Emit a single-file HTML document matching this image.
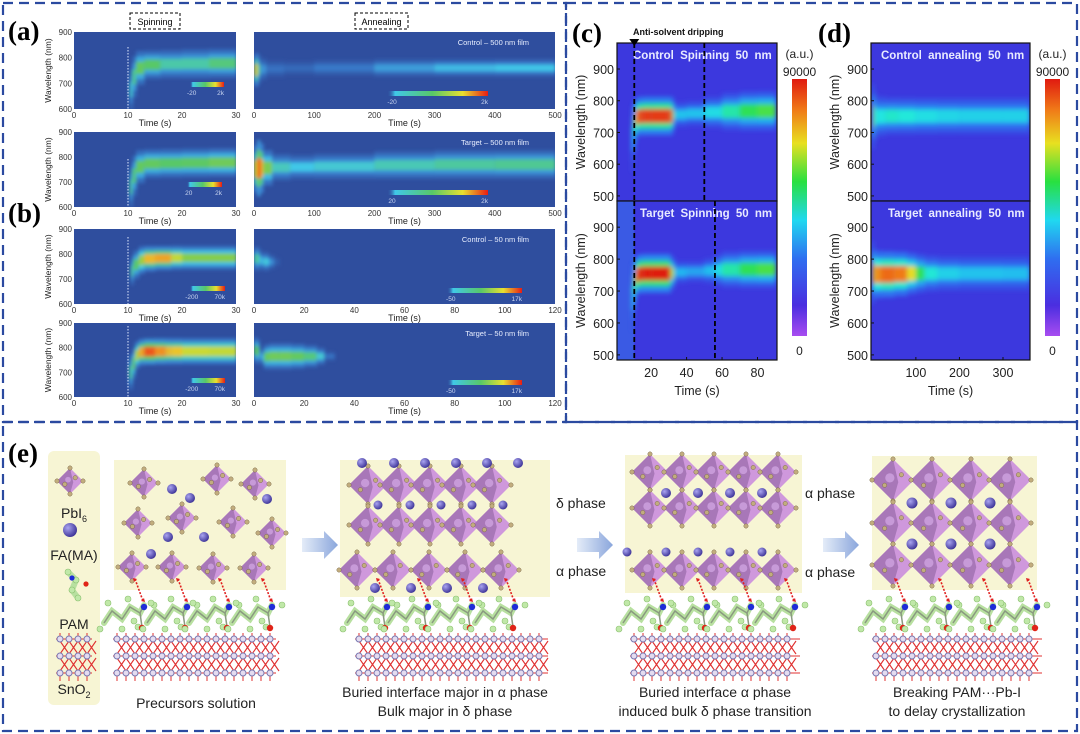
<!DOCTYPE html>
<html><head><meta charset="utf-8"><style>
html,body{margin:0;padding:0;background:#fff;width:1080px;height:734px;overflow:hidden}
svg{display:block;font-family:"Liberation Sans",sans-serif}
</style></head><body>
<svg id="fig" width="1080" height="734" viewBox="0 0 1080 734" xmlns="http://www.w3.org/2000/svg">
<defs>
<filter id="blurA" x="-20%" y="-50%" width="140%" height="200%"><feGaussianBlur stdDeviation="1.8"/></filter>
<filter id="blurC" x="-20%" y="-50%" width="140%" height="200%"><feGaussianBlur stdDeviation="2.4"/></filter>
<radialGradient id="cat" cx="0.35" cy="0.35" r="0.7"><stop offset="0" stop-color="#a9a4f0"/><stop offset="1" stop-color="#3b3196"/></radialGradient>
<linearGradient id="arrowG" x1="0" x2="1"><stop offset="0" stop-color="#e4ecf8"/><stop offset="1" stop-color="#8aa6dc"/></linearGradient>
<linearGradient id="cbarCD" x1="0" y1="1" x2="0" y2="0">
<stop offset="0" stop-color="#a84cf0"/><stop offset="0.12" stop-color="#4a2ee0"/><stop offset="0.3" stop-color="#2f6ef0"/><stop offset="0.45" stop-color="#20d8f0"/><stop offset="0.6" stop-color="#28e040"/><stop offset="0.75" stop-color="#e8e020"/><stop offset="0.88" stop-color="#f07a18"/><stop offset="1" stop-color="#e01a10"/></linearGradient>
<linearGradient id="cbarA" x1="0" x2="1"><stop offset="0" stop-color="#2f4e9e" stop-opacity="0"/><stop offset="0.08" stop-color="#40c8e8"/><stop offset="0.45" stop-color="#58c868"/><stop offset="0.75" stop-color="#e8e030"/><stop offset="1" stop-color="#e81c14"/></linearGradient>
</defs>

<g fill="none" stroke="#2b4aa0" stroke-width="2.2" stroke-dasharray="10 6">
<rect x="3" y="3" width="563" height="419"/>
<rect x="566" y="3" width="511" height="419"/>
<rect x="3" y="422" width="1074" height="309"/>
</g>

<g font-family="Liberation Serif,serif" font-weight="bold" font-size="27" fill="#000">
<text x="8" y="40">(a)</text>
<text x="8" y="222">(b)</text>
<text x="572" y="42">(c)</text>
<text x="818" y="42">(d)</text>
<text x="8" y="462">(e)</text>
</g>
<g><rect x="130" y="13" width="50" height="16" fill="none" stroke="#000" stroke-dasharray="3 2"/><text x="155" y="25" font-size="9" text-anchor="middle">Spinning</text></g>
<g><rect x="355" y="13" width="53" height="16" fill="none" stroke="#000" stroke-dasharray="3 2"/><text x="381.5" y="25" font-size="9" text-anchor="middle">Annealing</text></g>

<g id="charts"></g>
<g id="schem"></g>
</svg>
<script>
// ===== data (a)/(b) =====
const a1sT=[10.3,10.8,11.5,13,16,20,25,30];
const a1sC=[650,700,750,770,775,775,778,778];
const a1sW=[40,45,40,30,28,30,30,30];
const a1sV=[0.35,0.4,0.5,0.55,0.45,0.4,0.45,0.5];
const a1aT=[0,3,6,10,20,50,100,200,300,400,500];
const a1aC=[750,752,752,755,755,758,760,760,760,760,760];
const a1aW=[30,35,35,25,20,15,15,18,18,18,18];
const a1aV=[0.45,0.95,0.6,0.3,0.18,0.1,0.12,0.22,0.3,0.34,0.35];
const a2sT=[10.3,10.8,11.5,13,16,20,25,30];
const a2sC=[660,700,750,772,775,775,778,778];
const a2sW=[40,45,40,30,30,30,30,30];
const a2sV=[0.4,0.45,0.5,0.55,0.5,0.5,0.52,0.58];
const a2aT=[0,5,10,15,30,60,100,200,300,400,500];
const a2aC=[750,755,755,755,758,760,760,765,770,770,770];
const a2aW=[40,60,60,45,30,25,25,28,30,30,30];
const a2aV=[0.5,0.95,0.95,0.7,0.45,0.35,0.35,0.4,0.42,0.45,0.45];
const b1sT=[10.5,11,12,13,15,18,20,25,30];
const b1sC=[720,745,770,780,782,785,785,785,785];
const b1sW=[30,30,30,28,25,25,25,25,25];
const b1sV=[0.4,0.45,0.55,0.75,0.85,0.8,0.6,0.6,0.6];
const b1aT=[0,1,2,3,4,5,6,8,10];
const b1aC=[780,782,780,772,770,770,768,768,768];
const b1aW=[25,25,25,18,20,20,18,12,8];
const b1aV=[0.35,0.5,0.4,0.25,0.35,0.4,0.3,0.15,0];
const b2sT=[10.2,10.8,11.3,12,13,15,17,18,20,25,30];
const b2sC=[690,710,760,780,783,785,785,785,785,785,785];
const b2sW=[40,35,30,28,28,28,28,28,28,28,28];
const b2sV=[0.4,0.45,0.6,0.75,0.9,0.95,0.75,0.85,0.72,0.7,0.7];
const b2aT=[0,1,2,3,4,6,10,15,20,25,28,32];
const b2aC=[790,790,780,760,760,765,765,765,765,765,765,765];
const b2aW=[25,30,25,10,25,28,28,28,25,22,15,5];
const b2aV=[0.4,0.6,0.4,0.1,0.5,0.55,0.55,0.55,0.5,0.45,0.3,0];
const spinTicks=[0,10,20,30];
const annATicks=[0,100,200,300,400,500];
const annBTicks=[0,20,40,60,80,100,120];
const wlTicksA=[600,700,800,900];
// ===== data (c)/(d) =====
const cTopT=[9,10,11,12,15,20,25,30,32,33,40,50,60,70,80,90];
const cTopC=[660,700,740,750,752,752,752,752,752,755,758,762,765,767,768,768];
const cTopW=[60,50,35,32,32,32,32,32,32,22,18,22,28,32,32,32];
const cTopV=[0.3,0.4,0.7,0.9,0.95,0.95,0.95,0.95,0.9,0.4,0.35,0.4,0.45,0.55,0.6,0.6];
const cBotT=[9,10,11,12,15,20,25,30,31,33,40,50,56,60,70,80,90];
const cBotC=[660,700,740,752,755,755,755,755,755,758,760,762,765,767,768,768,768];
const cBotW=[60,50,35,32,32,32,32,32,32,20,15,18,22,28,30,30,30];
const cBotV=[0.3,0.45,0.75,0.95,1,1,1,1,0.95,0.4,0.3,0.33,0.4,0.45,0.55,0.6,0.6];
const dTopT=[0,2,5,10,30,60,100,150,200,300,360];
const dTopC=[750,750,750,750,752,752,752,752,752,752,752];
const dTopW=[60,50,40,35,30,30,30,30,30,30,30];
const dTopV=[0.8,0.6,0.45,0.42,0.47,0.47,0.44,0.42,0.4,0.4,0.4];
const dBotT=[0,2,5,20,50,80,100,120,150,200,300,360];
const dBotC=[760,755,752,752,752,755,755,755,755,755,755,755];
const dBotW=[60,45,40,38,38,35,32,30,28,28,28,28];
const dBotV=[0.8,0.75,0.8,0.85,0.9,0.8,0.65,0.5,0.42,0.38,0.36,0.36];
const cTicksX=[20,40,60,80];
const dTicksX=[100,200,300];
const wlTicksCD=[500,600,700,800,900];

const NS='http://www.w3.org/2000/svg';
function el(tag,attrs,parent){const e=document.createElementNS(NS,tag);for(const k in attrs)e.setAttribute(k,attrs[k]);if(parent)parent.appendChild(e);return e;}
function scale(d0,d1,r0,r1){return v=>r0+(v-d0)/(d1-d0)*(r1-r0);}
function hex(h){return [parseInt(h.slice(1,3),16),parseInt(h.slice(3,5),16),parseInt(h.slice(5,7),16)];}
function cmapFrom(stops){return v=>{v=Math.max(0,Math.min(1,v));for(let i=0;i<stops.length-1;i++){const[a,ca]=stops[i],[b,cb]=stops[i+1];if(v<=b){const f=(v-a)/(b-a),x=hex(ca),y=hex(cb);return 'rgb('+x.map((q,j)=>Math.round(q+(y[j]-q)*f)).join(',')+')';}}return stops[stops.length-1][1];};}
const jetA=cmapFrom([[0,'#2f4e9e'],[0.2,'#3a80d0'],[0.35,'#40c8e8'],[0.5,'#58c868'],[0.65,'#9ccf40'],[0.75,'#e8e030'],[0.87,'#f08020'],[1,'#e81c14']]);
const jetC=cmapFrom([[0,'#3c36dc'],[0.2,'#2f6ef0'],[0.35,'#22b8f0'],[0.45,'#22e8e0'],[0.58,'#30e050'],[0.72,'#e8e020'],[0.85,'#f07a18'],[1,'#e01a10']]);
const root=document.getElementById('charts');
let clipId=0;

function heat(g,xs,ys,T,C,W,V,cmap,filt){
  const layer=el('g',{filter:'url(#'+filt+')'},g);
  for(let i=0;i<T.length-1;i++){
    const x0=xs(T[i]),x1=xs(T[i+1]);
    const c=(C[i]+C[i+1])/2,w=(W[i]+W[i+1])/2*1.25,v=(V[i]+V[i+1])/2;
    if(v<=0.02)continue;
    const halo=el('rect',{x:x0,y:ys(c+w*1.5),width:x1-x0+0.6,height:Math.abs(ys(c-w*1.5)-ys(c+w*1.5)),fill:cmap(v*0.25)},layer);
    
    
    const outer=el('rect',{x:x0,y:ys(c+w),width:x1-x0+0.6,height:Math.abs(ys(c-w)-ys(c+w)),fill:cmap(v*0.55)},layer);
    
    
    const inner=el('rect',{x:x0,y:ys(c+w*0.55),width:x1-x0+0.6,height:Math.abs(ys(c-w*0.55)-ys(c+w*0.55)),fill:cmap(v)},layer);
    
    
  }
}

function plotA(o){
  const g=el('g',{},root);
  
  
  const id='cp'+(clipId++);
  const cp=el('clipPath',{id:id},g);el('rect',{x:o.x0,y:o.y0,width:o.x1-o.x0,height:o.y1-o.y0},cp);
  el('rect',{x:o.x0,y:o.y0,width:o.x1-o.x0,height:o.y1-o.y0,fill:'#2f4e9e'},g);
  const xs=scale(o.d0,o.d1,o.x0,o.x1),ys=scale(600,900,o.y1,o.y0);
  const hg=el('g',{'clip-path':'url(#'+id+')'},g);
  heat(hg,xs,ys,o.T,o.C,o.W,o.V,jetA,'blurA');
  if(o.dotted){const l=el('line',{x1:xs(10),x2:xs(10),y1:o.y0+(o.dottedTop||15),y2:o.y1,stroke:'#dfe8ff','stroke-width':1,'stroke-dasharray':'1.5 1.5'},g);
    }
  o.ticks.forEach(t=>{const tx=el('text',{x:xs(t),y:o.y1+9,'font-size':8,'text-anchor':'middle',fill:'#333'},g);tx.textContent=t;
    });
  const xl=el('text',{x:(o.x0+o.x1)/2,y:o.y1+17,'font-size':9,'text-anchor':'middle',fill:'#222'},g);xl.textContent='Time (s)';
  
  if(o.yaxis){
    wlTicksA.forEach(t=>{const tx=el('text',{x:o.x0-2,y:ys(t)+3,'font-size':8,'text-anchor':'end',fill:'#333'},g);tx.textContent=t;
      });
    const yl=el('text',{x:0,y:0,'font-size':8.5,'text-anchor':'middle',fill:'#222',transform:'translate('+(o.x0-23)+','+((o.y0+o.y1)/2)+') rotate(-90)'},g);yl.textContent='Wavelength (nm)';
    
  }
  if(o.title){const tt=el('text',{x:o.x1-26,y:o.y0+13,'font-size':7.5,'text-anchor':'end',fill:'#e8eeff'},g);tt.textContent=o.title;
    }
  const cb=o.cb;
  const r=el('rect',{x:cb[0],y:cb[1],width:cb[2],height:5,fill:'url(#cbarA)'},g);
  
  const l1=el('text',{x:cb[0]+cb[2]*0.05,y:cb[1]+13,'font-size':6.5,'text-anchor':'middle',fill:'#c8d4f0'},g);l1.textContent=cb[3];
  const l2=el('text',{x:cb[0]+cb[2],y:cb[1]+13,'font-size':6.5,'text-anchor':'end',fill:'#c8d4f0'},g);l2.textContent=cb[4];
}

const LX0=74,LX1=236,RX0=254,RX1=555;
plotA({name:'a-control-spinning',x0:LX0,x1:LX1,y0:32,y1:109,d0:0,d1:30,T:a1sT,C:a1sC,W:a1sW,V:a1sV,ticks:spinTicks,yaxis:1,dotted:1,cb:[190,82,34,'-20','2k']});
plotA({name:'a-control-annealing',x0:RX0,x1:RX1,y0:32,y1:109,d0:0,d1:500,T:a1aT,C:a1aC,W:a1aW,V:a1aV,ticks:annATicks,title:'Control – 500 nm film',cb:[387,91,101,'-20','2k']});
plotA({name:'a-target-spinning',x0:LX0,x1:LX1,y0:132,y1:207,d0:0,d1:30,T:a2sT,C:a2sC,W:a2sW,V:a2sV,ticks:spinTicks,yaxis:1,dotted:1,dottedTop:27,cb:[187,182,35,'20','2k']});
plotA({name:'a-target-annealing',x0:RX0,x1:RX1,y0:132,y1:207,d0:0,d1:500,T:a2aT,C:a2aC,W:a2aW,V:a2aV,ticks:annATicks,title:'Target – 500 nm film',cb:[387,190,101,'20','2k']});
plotA({name:'b-control-spinning',x0:LX0,x1:LX1,y0:229,y1:304,d0:0,d1:30,T:b1sT,C:b1sC,W:b1sW,V:b1sV,ticks:spinTicks,yaxis:1,dotted:1,dottedTop:8,cb:[190,286,35,'-200','70k']});
plotA({name:'b-control-annealing',x0:RX0,x1:RX1,y0:229,y1:304,d0:0,d1:120,T:b1aT,C:b1aC,W:b1aW,V:b1aV,ticks:annBTicks,title:'Control – 50 nm film',cb:[447,288,75,'-50','17k']});
plotA({name:'b-target-spinning',x0:LX0,x1:LX1,y0:323,y1:397,d0:0,d1:30,T:b2sT,C:b2sC,W:b2sW,V:b2sV,ticks:spinTicks,yaxis:1,dotted:1,dottedTop:3,cb:[190,378,35,'-200','70k']});
plotA({name:'b-target-annealing',x0:RX0,x1:RX1,y0:323,y1:397,d0:0,d1:120,T:b2aT,C:b2aC,W:b2aW,V:b2aV,ticks:annBTicks,title:'Target – 50 nm film',cb:[447,380,75,'-50','17k']});

function plotC(o){
  const g=el('g',{},root);
  
  
  const id='cp'+(clipId++);
  const cp=el('clipPath',{id:id},g);el('rect',{x:o.x0,y:o.y0,width:o.x1-o.x0,height:o.y1-o.y0},cp);
  el('rect',{x:o.x0,y:o.y0,width:o.x1-o.x0,height:o.y1-o.y0,fill:'#3c38de'},g);
  const xs=scale(o.d0,o.d1,o.x0,o.x1),ys=scale(484,982,o.y1,o.y0);
  const hg=el('g',{'clip-path':'url(#'+id+')'},g);
  if(o.pre){el('rect',{x:o.x0,y:o.y0,width:xs(o.pre)-o.x0,height:o.y1-o.y0,fill:'#3a5ae4'},hg);}
  heat(hg,xs,ys,o.T,o.C,o.W,o.V,jetC,'blurC');
  el('rect',{x:o.x0,y:o.y0,width:o.x1-o.x0,height:o.y1-o.y0,fill:'none',stroke:'#111','stroke-width':1.2},g);
  wlTicksCD.forEach(t=>{const tx=el('text',{x:o.x0-3,y:ys(t)+5,'font-size':12.5,'text-anchor':'end',fill:'#222'},g);tx.textContent=t;
    
    el('line',{x1:o.x0,x2:o.x0+3,y1:ys(t),y2:ys(t),stroke:'#111'},g);});
  const yl=el('text',{x:0,y:0,'font-size':12.5,'text-anchor':'middle',fill:'#222',transform:'translate('+(o.x0-32)+','+((o.y0+o.y1)/2)+') rotate(-90)'},g);yl.textContent='Wavelength (nm)';
  
  const tt=el('text',{x:o.tx,y:o.y0+16,'font-size':11.5,'font-weight':'bold',fill:'#e8eaff','word-spacing':'3'},g);tt.textContent=o.title;
  
  (o.dashes||[]).forEach(t=>{const l=el('line',{x1:xs(t),x2:xs(t),y1:o.y0,y2:o.y1,stroke:'#000','stroke-width':1.8,'stroke-dasharray':'5 3'},g);
    });
  if(o.ticks){o.ticks.forEach(t=>{const tx=el('text',{x:xs(t),y:o.y1+17,'font-size':12.5,'text-anchor':'middle',fill:'#222'},g);tx.textContent=t;
    
    el('line',{x1:xs(t),x2:xs(t),y1:o.y1,y2:o.y1-3,stroke:'#111'},g);});
    const xl=el('text',{x:(o.x0+o.x1)/2,y:o.y1+35,'font-size':12.5,'text-anchor':'middle',fill:'#222'},g);xl.textContent='Time (s)';
    }
  return xs;
}
const cx=plotC({name:'c-control-spinning',x0:617,x1:777,y0:43,y1:201,d0:0.75,d1:91,T:cTopT,C:cTopC,W:cTopW,V:cTopV,title:'Control Spinning 50 nm',tx:633,dashes:[10.5,50]});
plotC({name:'c-target-spinning',x0:617,x1:777,y0:201,y1:360,d0:0.75,d1:91,T:cBotT,C:cBotC,W:cBotW,V:cBotV,title:'Target Spinning 50 nm',tx:640,dashes:[10.5,56],ticks:cTicksX,pre:10.5});
plotC({name:'d-control-annealing',x0:871,x1:1030,y0:43,y1:201,d0:-3,d1:362,T:dTopT,C:dTopC,W:dTopW,V:dTopV,title:'Control annealing 50 nm',tx:881});
plotC({name:'d-target-annealing',x0:871,x1:1030,y0:201,y1:360,d0:-3,d1:362,T:dBotT,C:dBotC,W:dBotW,V:dBotV,title:'Target annealing 50 nm',tx:888,ticks:dTicksX});
(function(){
  const g=el('g',{},root);
  
  
  const x=cx(10.5);
  el('path',{d:'M'+(x-5)+',39 L'+(x+5)+',39 L'+x+',46 Z',fill:'#000'},g);
  const t=el('text',{x:633,y:35,'font-size':9,'font-weight':'bold',fill:'#111'},g);t.textContent='Anti-solvent dripping';
  [[792,'c'],[1045,'d']].forEach(([x,n])=>{
    const r=el('rect',{x:x,y:79,width:15,height:257,fill:'url(#cbarCD)'},g);
    
    const a=el('text',{x:x+7.5,y:58,'font-size':12,'text-anchor':'middle',fill:'#222'},g);a.textContent='(a.u.)';
    const b=el('text',{x:x+7.5,y:76,'font-size':12,'text-anchor':'middle',fill:'#222'},g);b.textContent='90000';
    const c=el('text',{x:x+7.5,y:355,'font-size':12,'text-anchor':'middle',fill:'#222'},g);c.textContent='0';
  });
})();

// ===== schematic (e) =====
const S=document.getElementById('schem');
function oct(g,x,y,s){
  const o=el('g',{},g);
  
  
  el('polygon',{points:`${x},${y-s} ${x+s},${y} ${x},${y+s} ${x-s},${y}`,fill:'#cf98dc'},o);
  el('polygon',{points:`${x},${y-s} ${x-s},${y} ${x},${y+s} ${x+s*0.25},${y+s*0.1}`,fill:'#a877b8'},o);
  el('circle',{cx:x-s*0.15,cy:y-s*0.1,r:s*0.22,fill:'#c79ad8'},o);
  [[0,-s],[s,0],[0,s],[-s,0],[s*0.4,-s*0.25],[-s*0.4,s*0.25]].forEach(([dx,dy])=>el('circle',{cx:x+dx,cy:y+dy,r:2.2,fill:'#c2ad7e',stroke:'#6d5c3c','stroke-width':0.4},o));
}
function cation(g,x,y,r){const c=el('circle',{cx:x,cy:y,r:r||5,fill:'url(#cat)'},g);
  }
function pam(g,nx,ny){
  const m=el('g',{},g);
  
  
  const pts=[[-40,16],[-32,4],[-22,12],[-14,0],[-4,6],[0,-2]];
  el('polyline',{points:pts.map(p=>(nx+p[0])+','+(ny+p[1])).join(' '),fill:'none',stroke:'#b8e0a0','stroke-width':6,'stroke-linecap':'round'},m);
  el('polyline',{points:pts.map(p=>(nx+p[0])+','+(ny+p[1])).join(' '),fill:'none',stroke:'#8a9a80','stroke-width':1.5},m);
  [[-44,22],[-36,-4],[-22,22],[-16,-8],[-10,14],[10,-2],[-6,20]].forEach(p=>el('circle',{cx:nx+p[0],cy:ny+p[1],r:3,fill:'#c0e8a8',stroke:'#8cc070','stroke-width':0.6},m));
  el('line',{x1:nx-4,y1:ny+6,x2:nx-2,y2:ny+20,stroke:'#8a9a80','stroke-width':1.5},m);
  el('circle',{cx:nx,cy:ny,r:3.2,fill:'#1f2cd8'},m);
  el('circle',{cx:nx-2,cy:ny+21,r:3.2,fill:'#e02418'},m);
  el('line',{x1:nx-9,y1:ny-28,x2:nx-1,y2:ny-6,stroke:'#e02020','stroke-width':1.6,'stroke-dasharray':'2 1.5'},m);
  el('path',{d:`M${nx-11},${ny-29} l4,1 l-3,3 Z M${nx+1},${ny-5} l-4,-1 l3,-3 Z`,fill:'#e02020'},m);
}
function sno2(g,x0,x1){
  const s=el('g',{},g);
  
  
  const rows=[639,656,673];
  for(let x=x0+4;x<x1-4;x+=9){
    el('line',{x1:x,y1:633,x2:x,y2:637,stroke:'#e03030','stroke-width':1},s);
    el('line',{x1:x,y1:675,x2:x,y2:681,stroke:'#e03030','stroke-width':1},s);
    for(let r=0;r<2;r++){el('line',{x1:x,y1:rows[r]+2,x2:x+9,y2:rows[r+1]-2,stroke:'#e03030','stroke-width':1.1},s);
      el('line',{x1:x+9,y1:rows[r]+2,x2:x,y2:rows[r+1]-2,stroke:'#e03030','stroke-width':1.1},s);}
  }
  rows.forEach(y=>{el('line',{x1:x0,x2:x1,y1:y,y2:y,stroke:'#e03030','stroke-width':1},s);
    for(let x=x0+4;x<x1-4;x+=9)el('circle',{cx:x,cy:y,r:3,fill:'#e4dcf0',stroke:'#7a78b0','stroke-width':1},s);});
}
function arrow(g,x,y){const a=el('path',{d:`M${x},${y-7} L${x+22},${y-7} L${x+22},${y-14} L${x+36},${y} L${x+22},${y+14} L${x+22},${y+7} L${x},${y+7} Z`,fill:'url(#arrowG)'},g);
  }
function txt(g,x,y,s,str,name,anchor){const t=el('text',{x:x,y:y,'font-size':s,'text-anchor':anchor||'middle',fill:'#222'},g);t.innerHTML=str;
  return t;}

const L=el('g',{},S);


el('rect',{x:48,y:451,width:52,height:254,rx:6,fill:'#f7f5d4'},L);
oct(L,70,481,13);
txt(L,74,518,14,'PbI<tspan font-size="9" dy="4">6</tspan>','legend-pbi6');
cation(L,70,530,7);
txt(L,74,560,14,'FA(MA)','legend-cation');
(function(){const m=el('g',{},L);const pts=[[68,572],[76,580],[72,590],[78,598]];
  el('polyline',{points:pts.map(p=>p.join(',')).join(' '),fill:'none',stroke:'#b8e0a0','stroke-width':6},m);
  pts.forEach(p=>el('circle',{cx:p[0],cy:p[1],r:3,fill:'#c0e8a8',stroke:'#8cc070','stroke-width':0.6},m));
  el('circle',{cx:72,cy:578,r:2.6,fill:'#1f2cd8'},m);el('circle',{cx:86,cy:584,r:2.6,fill:'#e02418'},m);})();
txt(L,74,629,14,'PAM','legend-pam');
sno2(L,56,92);
txt(L,74,694,14,'SnO<tspan font-size="9" dy="4">2</tspan>','legend-sno2');

const P1=el('g',{},S);
el('rect',{x:114,y:460,width:172,height:130,fill:'#f7f5d4'},P1);
[[144,483],[217,479],[255,484],[138,523],[182,518],[233,522],[272,533],[132,567],[172,567],[213,568],[254,568]].forEach(p=>oct(P1,p[0],p[1],14));
[[172,489],[190,498],[267,499],[168,537],[204,537],[151,554]].forEach(p=>cation(P1,p[0],p[1]));
[144,187,229,272].forEach(x=>pam(P1,x,607));
sno2(P1,113,276);
txt(P1,196,708,14,'Precursors solution','caption-precursors');
arrow(S,302,545);

const P2=el('g',{},S);
el('rect',{x:340,y:460,width:210,height:137,fill:'#f7f5d4'},P2);
[485,525].forEach(y=>{for(let i=0;i<5;i++)oct(P2,368+i*31,y,19);});
[362,394,425,456,487,518].forEach(x=>cation(P2,x,463,5));
[378,410,441,472,503].forEach(x=>cation(P2,x,505,4.5));
[357,393,429,465,501].forEach(x=>oct(P2,x,570,18));
[375,411,447,483].forEach(x=>cation(P2,x,588));
[387,428,472,515].forEach(x=>pam(P2,x,607));
sno2(P2,355,548);
txt(P2,556,508,14,'δ phase','label-delta-phase','start');
txt(P2,556,576,14,'α phase','label-alpha-phase-2','start');
txt(P2,445,697,14,'Buried interface major in α phase','caption-stage2-l1');
txt(P2,445,716,14,'Bulk major in δ phase','caption-stage2-l2');
arrow(S,577,545);

const P3=el('g',{},S);
el('rect',{x:625,y:455,width:177,height:138,fill:'#f7f5d4'},P3);
[472,508].forEach(y=>{for(let i=0;i<5;i++)oct(P3,650+i*32,y,18);});
[666,698,730,762].forEach(x=>cation(P3,x,493));
[627,666,698,730,762].forEach(x=>cation(P3,x,552,4.5));
[650,682,714,746,778].forEach(x=>oct(P3,x,570,18));
[663,707,751,795].forEach(x=>pam(P3,x,607));
sno2(P3,630,800);
txt(P3,805,498,14,'α phase','label-alpha-phase-3a','start');
txt(P3,805,577,14,'α phase','label-alpha-phase-3b','start');
txt(P3,715,697,14,'Buried interface α phase','caption-stage3-l1');
txt(P3,715,716,14,'induced bulk δ phase transition','caption-stage3-l2');
arrow(S,823,545);

const P4=el('g',{},S);
el('rect',{x:872,y:456,width:165,height:134,fill:'#f7f5d4'},P4);
[480,523,565].forEach(y=>{for(let i=0;i<4;i++)oct(P4,893+i*39,y,21);});
[503,544].forEach(y=>[912,951,990].forEach(x=>cation(P4,x,y,5.5)));
[905,949,993,1037].forEach(x=>pam(P4,x,607));
sno2(P4,872,1042);
txt(P4,957,697,14,'Breaking PAM···Pb-I','caption-stage4-l1');
txt(P4,957,716,14,'to delay crystallization','caption-stage4-l2');
</script>
</body></html>
